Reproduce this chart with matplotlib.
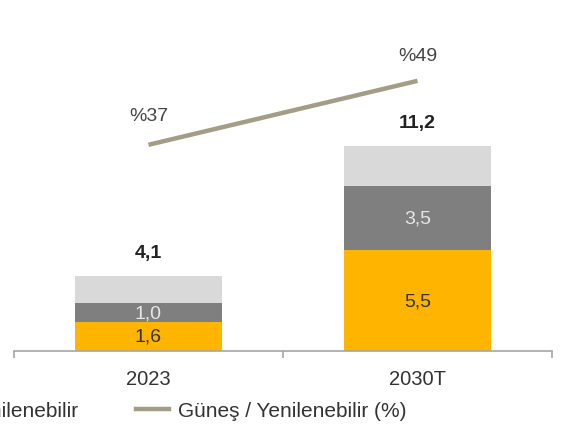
import matplotlib.pyplot as plt
from matplotlib.lines import Line2D

plt.rcParams['font.family'] = ['Liberation Sans', 'DejaVu Sans']

# Datos
yillar = ["2023", "2030T"]
gunes = [1.6, 5.5]
diger_yen = [1.0, 3.5]
diger = [1.5, 2.2]
toplam = [4.1, 11.2]
gunes_pay = [37, 49]

sari = "#FFB400"
koyu_gri = "#7F7F7F"
acik_gri = "#D9D9D9"
cizgi_renk = "#A39C86"
yazi = "#333333"

W, H = 561, 431
fig = plt.figure(figsize=(W / 100, H / 100), dpi=100)
# eksen: x 14..552 px, y 352 (taban) .. 20 px
ax = fig.add_axes([14 / W, (H - 352) / H, 538 / W, 332 / H])

x = list(range(len(yillar)))
gen = 0.55
ax.bar(x, gunes, width=gen, color=sari, zorder=2)
ax.bar(x, diger_yen, width=gen, bottom=gunes, color=koyu_gri, zorder=2)
alt3 = [a + b for a, b in zip(gunes, diger_yen)]
ax.bar(x, diger, width=gen, bottom=alt3, color=acik_gri, zorder=2)

for i in x:
    ax.text(i, gunes[i] / 2, f"{gunes[i]:.1f}".replace(".", ","),
            ha="center", va="center", fontsize=14, color=yazi)
    ax.text(i, gunes[i] + diger_yen[i] / 2, f"{diger_yen[i]:.1f}".replace(".", ","),
            ha="center", va="center", fontsize=14, color="#E6E6E6")
    ax.annotate(f"{toplam[i]:.1f}".replace(".", ","), (i, toplam[i]),
                xytext=(0, 17), textcoords="offset points",
                ha="center", va="center", fontsize=14, fontweight="bold", color="#222222")

ax.set_xlim(-0.5, 1.5)
ax.set_ylim(0, 332 / 18.3)
ax.set_yticks([])
for s in ["top", "right", "left"]:
    ax.spines[s].set_visible(False)
ax.spines["bottom"].set_color("#A6A6A6")
ax.spines["bottom"].set_linewidth(1.2)
ax.set_xticks([-0.5, 0.5, 1.5], minor=False)
ax.set_xticklabels([])
ax.tick_params(axis="x", which="major", direction="out", length=5, color="#A6A6A6", width=1.2)
ax.set_xticks(x, minor=True)
ax.set_xticklabels(yillar, minor=True)
ax.tick_params(axis="x", which="minor", length=0, pad=13, labelsize=14.5, labelcolor=yazi)

# ikincil eksen: yuzde
ax2 = ax.twinx()
px = 5.33
ax2.set_ylim(-9 / px, (343 - 20) / px)
ax2.plot(x, gunes_pay, color=cizgi_renk, lw=3.2, solid_capstyle="butt", zorder=3)
ofs = [21, 18]
for i in x:
    ax2.annotate(f"%{gunes_pay[i]}", (i, gunes_pay[i]), xytext=(0, ofs[i]),
                 textcoords="offset points", ha="center", va="center",
                 fontsize=14, color="#444444")
ax2.axis("off")

# lejant (sol kismi kesik, referansta oldugu gibi)
fig.text(78 / W, 1 - 412 / H, "Diğer Yenilenebilir", ha="right", va="center",
         fontsize=15, color=yazi)
cizgi = Line2D([], [], color=cizgi_renk, lw=3.2)
fig.legend(handles=[cizgi], labels=["Güneş / Yenilenebilir (%)"], loc="center left",
           bbox_to_anchor=(136 / W, 1 - 412 / H), frameon=False, borderpad=0,
           borderaxespad=0, handlelength=1.6, handletextpad=0.4, fontsize=15,
           labelcolor=yazi)

fig.savefig("out.png", dpi=100)
